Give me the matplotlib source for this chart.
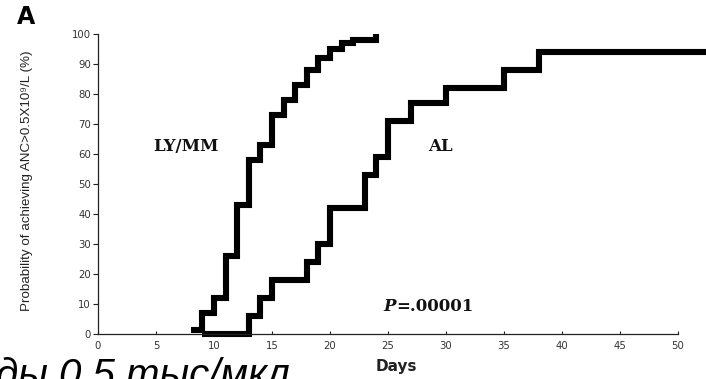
import matplotlib
matplotlib.use("Agg")
from matplotlib import pyplot as plt

# Kaplan-Meier style step data
ly_days = [8, 9, 10, 11, 12, 13, 14, 15, 16, 17, 18, 19, 20, 21, 22, 24]
ly_prob = [1.5, 7, 12, 26, 43, 58, 63, 73, 78, 83, 88, 92, 95, 97, 98, 100]

al_days = [9, 13, 14, 15, 18, 19, 20, 23, 24, 25, 27, 30, 35, 38, 52.5]
al_prob = [0, 6, 12, 18, 24, 30, 42, 53, 59, 71, 77, 82, 88, 94, 94]

x_ticks = [0, 5, 10, 15, 20, 25, 30, 35, 40, 45, 50]
y_ticks = [0, 10, 20, 30, 40, 50, 60, 70, 80, 90, 100]

fig = plt.figure(figsize=(7.06, 3.79), dpi=100)
ax = fig.add_axes([98 / 706, 45 / 379, 580 / 706, 300 / 379])

line_kw = dict(color="black", lw=4.4, drawstyle="steps-post",
               solid_joinstyle="miter", solid_capstyle="butt")
ax.plot(ly_days, ly_prob, **line_kw)
ax.plot(al_days, al_prob, clip_on=False, **line_kw)

ax.set_xlim(0, 50)
ax.set_ylim(0, 100)
ax.set_xticks(x_ticks)
ax.set_yticks(y_ticks)
ax.spines["top"].set_visible(False)
ax.spines["right"].set_visible(False)
for s in ["left", "bottom"]:
    ax.spines[s].set_linewidth(0.9)
    ax.spines[s].set_color("#222222")

ax.tick_params(axis="y", direction="out", length=3.5, width=0.8, pad=1.5,
               labelsize=7.3, labelcolor="#333333", color="#222222")
ax.tick_params(axis="x", direction="in", length=2, width=0.8, pad=5,
               labelsize=7.3, labelcolor="#333333", color="#222222")

ax.set_ylabel("Probability of achieving ANC>0.5X10⁹/L (%)",
              family=["Liberation Sans", "DejaVu Sans"], fontsize=9.6,
              color="#222222", ha="center", va="center")
ax.yaxis.set_label_coords(-0.1216, 0.51)

ax.set_xlabel("Days", family="DejaVu Sans", fontsize=11, weight="bold",
              color="#222222", va="top")
ax.xaxis.set_label_coords(0.515, -0.085)

serif = dict(family="DejaVu Serif", weight="bold", fontsize=12, color="#111111")
ax.text(7.6, 62.4, "LY/MM", ha="center", va="center", **serif)
ax.text(29.5, 62.4, "AL", ha="center", va="center", **serif)
p_txt = ax.text(24.6, 9.1, "P", ha="left", va="center", style="italic", **serif)
ax.annotate("=.00001", xy=(1, 0), xycoords=p_txt, va="bottom", ha="left", **serif)

fig.text(17 / 706, 1 - 17 / 379, "A", family="DejaVu Sans", weight="bold",
         fontsize=17, ha="left", va="center")

fig.text(-4 / 706, 1 - 387 / 379, "ды 0,5 тыс/мкл", family="Liberation Sans",
         style="italic", fontsize=29, ha="left", va="baseline")

fig.savefig("out.png", dpi=100)
